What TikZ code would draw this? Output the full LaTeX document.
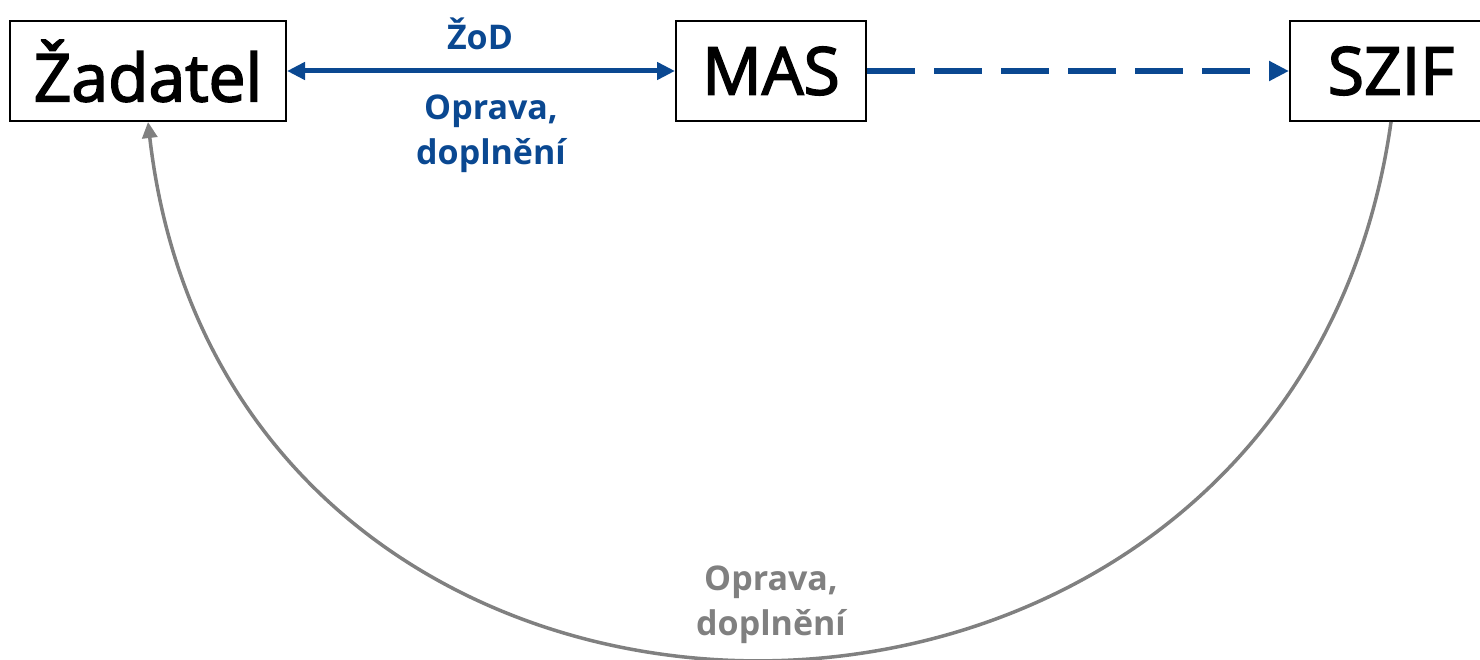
\documentclass[tikz,border=0pt]{standalone}
\usepackage{fontspec}
\setmainfont{Open Sans}
\newfontfamily\boxfont{Open Sans}[FakeBold=2.5]
\usetikzlibrary{arrows.meta}
\definecolor{myblue}{RGB}{10,72,145}
\definecolor{mygray}{RGB}{128,128,128}
\tikzset{
  boxnode/.style={draw=black, line width=2pt, minimum height=100pt, inner sep=0pt,
    font=\boxfont\fontsize{66}{78}\selectfont},
  bluelabel/.style={text=myblue, align=center, inner sep=0pt,
    font=\fontsize{34}{45}\selectfont\bfseries},
  graylabel/.style={text=mygray, align=center, inner sep=0pt,
    font=\fontsize{34}{45}\selectfont\bfseries},
  bluelink/.style={draw=myblue, line width=5pt,
    {Triangle[length=18pt,width=17pt]}-{Triangle[length=18pt,width=17pt]}},
  dashlink/.style={draw=myblue, line width=6pt, dash pattern=on 48pt off 19pt,
    -{Triangle[length=20pt,width=19pt]}},
  graylink/.style={draw=mygray, line width=3.5pt, -{Triangle[length=16pt,width=15pt]}}
}
\begin{document}
\begin{tikzpicture}[x=1pt,y=-1pt]
\useasboundingbox (0,0) rectangle (1480,660);
\clip (0,0) rectangle (1480,660);
\node[boxnode, minimum width=276pt] (zad) at (148,71) {Žadatel};
\node[boxnode, minimum width=190pt] (mas) at (771,71) {MAS};
\node[boxnode, minimum width=202pt] (szif) at (1391,71) {SZIF};
\draw[bluelink] (zad.east) -- (mas.west);
\draw[dashlink] (mas.east) -- (szif.west);
\draw[graylink] (szif.south) .. controls +(-101,716) and +(82,716) .. (zad.south);
\node[bluelabel, anchor=base] (zod) at (480,50) {ŽoD};
\node[bluelabel, anchor=base] (oprava1) at (491,165) {Oprava,\\doplnění};
\node[graylabel, anchor=base] (oprava2) at (771,635) {Oprava,\\doplnění};
\end{tikzpicture}
\end{document}
